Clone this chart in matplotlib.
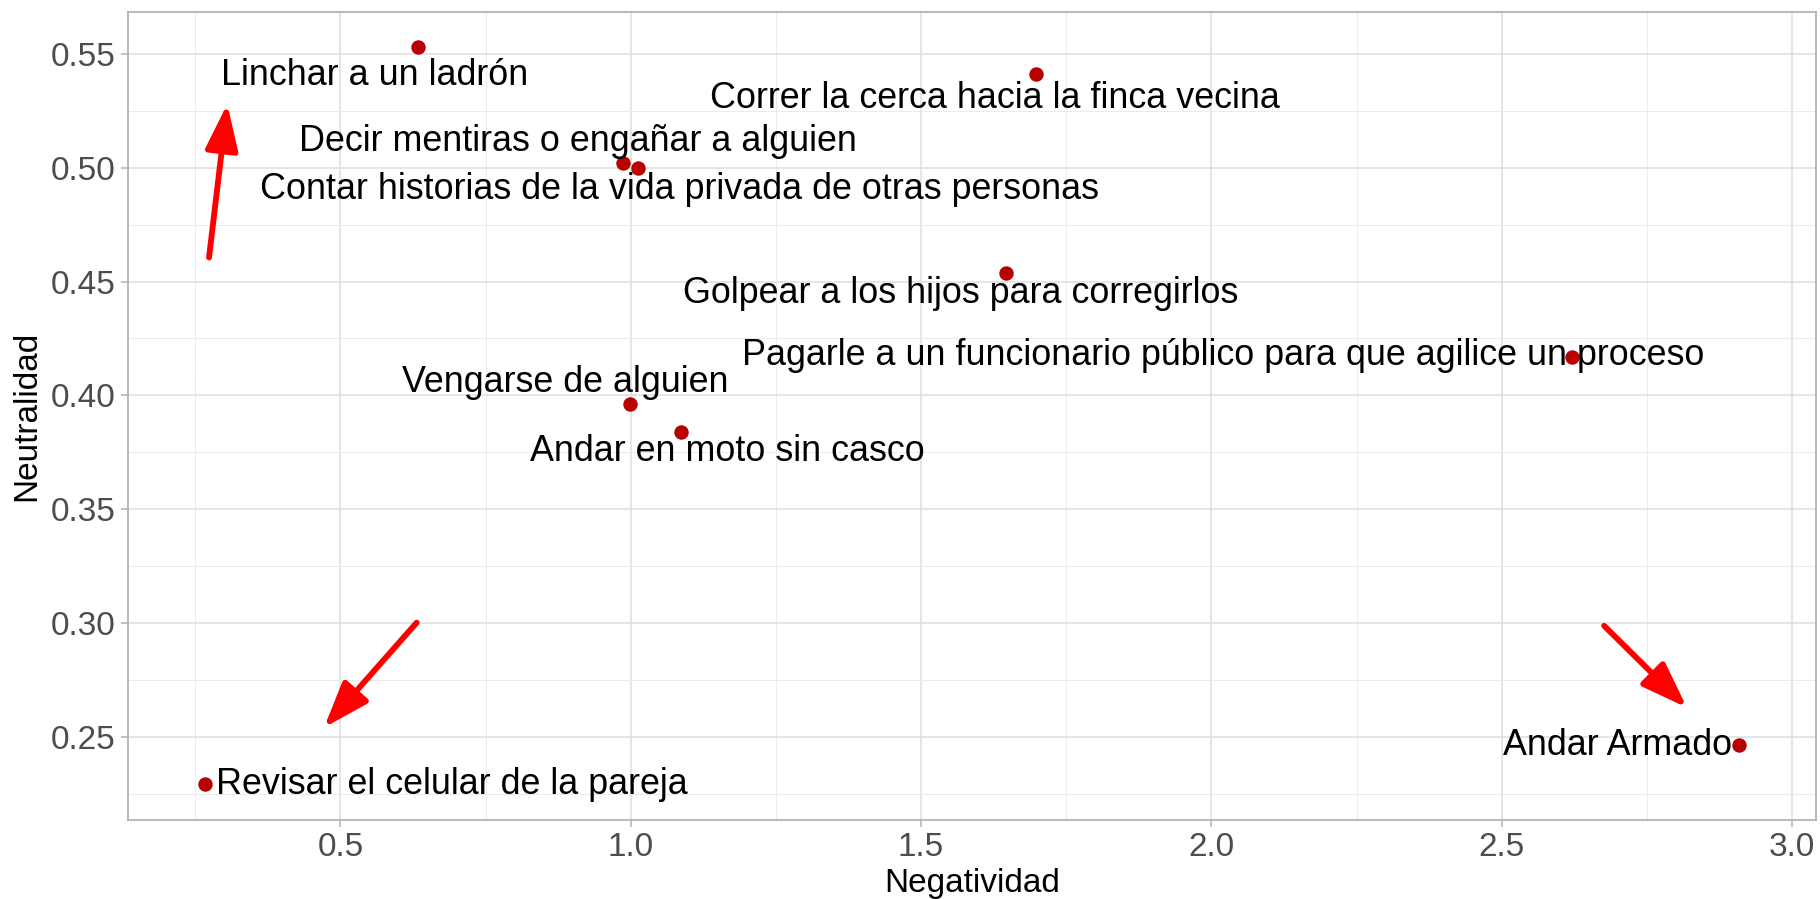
import matplotlib
matplotlib.use("Agg")
import matplotlib.pyplot as plt
from matplotlib.ticker import MultipleLocator, FormatStrFormatter

plt.rcParams['font.family'] = ['Liberation Sans', 'DejaVu Sans']

labels = [
    "Linchar a un ladrón",
    "Correr la cerca hacia la finca vecina",
    "Decir mentiras o engañar a alguien",
    "Contar historias de la vida privada de otras personas",
    "Golpear a los hijos para corregirlos",
    "Pagarle a un funcionario público para que agilice un proceso",
    "Vengarse de alguien",
    "Andar en moto sin casco",
    "Revisar el celular de la pareja",
    "Andar Armado",
]
negatividad = [0.633, 1.698, 0.986, 1.012, 1.647, 2.621, 0.998, 1.087, 0.267, 2.909]
neutralidad = [0.5532, 0.5414, 0.5021, 0.4997, 0.4536, 0.4170, 0.3964, 0.3840, 0.2295, 0.2465]

# label placement (offset in pixels from point, alignment)
label_dx = [-43, -41, -45, 42, -46, -349, -64, 46, 11, -7]
label_dy = [-29, -25, 21, -21, -20, 1, 21, -20, -1, -1]
label_ha = ['center', 'center', 'center', 'center', 'center', 'center', 'center', 'center', 'left', 'right']

arrow_start = [(0.2737, 0.4606), (0.6314, 0.3002), (2.6764, 0.2988)]
arrow_end = [(0.3052, 0.5280), (0.4718, 0.2541), (2.8188, 0.2629)]

fig = plt.figure(figsize=(18.2, 8.99), dpi=100)
ax = fig.add_axes([0.0705, 0.0879, 0.9273, 0.8982])

ax.set_xlim(0.1347, 3.0413)
ax.set_ylim(0.2135, 0.5682)

ax.xaxis.set_major_locator(MultipleLocator(0.5))
ax.xaxis.set_minor_locator(MultipleLocator(0.25))
ax.yaxis.set_major_locator(MultipleLocator(0.05))
ax.yaxis.set_minor_locator(MultipleLocator(0.025))
ax.xaxis.set_major_formatter(FormatStrFormatter('%.1f'))
ax.yaxis.set_major_formatter(FormatStrFormatter('%.2f'))

ax.grid(which='major', color='#DEDEDE', lw=1.1)
ax.grid(which='minor', color='#EBEBEB', lw=0.7)
ax.set_axisbelow(True)
for s in ax.spines.values():
    s.set_color('#B3B3B3')
    s.set_linewidth(1.3)
ax.tick_params(which='major', length=5, width=1.1, color='#B3B3B3',
               labelsize=24, labelcolor='#4D4D4D', pad=4)
ax.tick_params(which='minor', length=0)

ax.scatter(negatividad, neutralidad, s=108, color='#B80000', zorder=3, linewidths=0)

for lab, x, y, dx, dy, ha in zip(labels, negatividad, neutralidad, label_dx, label_dy, label_ha):
    ax.annotate(lab, (x, y), xytext=(dx, dy), textcoords='offset pixels',
                ha=ha, va='center', fontsize=25.8, color='black', zorder=4)

for (x0, y0), (x1, y1) in zip(arrow_start, arrow_end):
    ax.annotate('', xy=(x1, y1), xytext=(x0, y0),
                arrowprops=dict(arrowstyle='-|>,head_length=0.7,head_width=0.25',
                                color='red', lw=4.2, mutation_scale=40,
                                shrinkA=0, shrinkB=0), zorder=5)

ax.set_xlabel('Negatividad', fontsize=24, color='black', labelpad=3)
ax.set_ylabel('Neutralidad', fontsize=24, color='black', labelpad=6)

fig.savefig('out.png', dpi=100)
